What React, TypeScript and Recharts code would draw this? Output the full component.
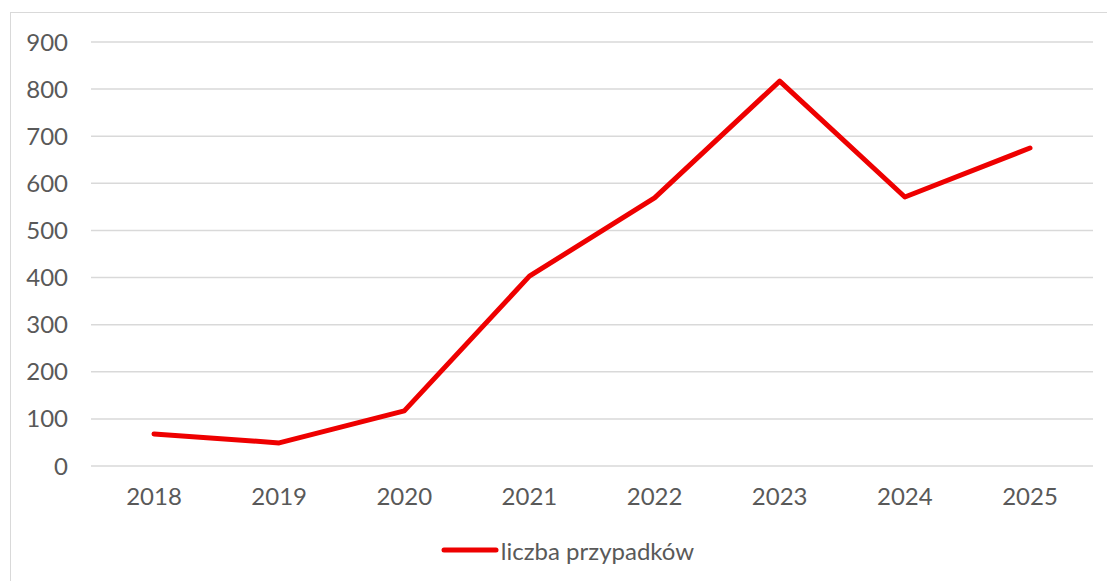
import React from "react";
import {
  LineChart,
  Line,
  XAxis,
  YAxis,
  CartesianGrid,
  Legend,
} from "recharts";

const YEARS = ["2018", "2019", "2020", "2021", "2022", "2023", "2024", "2025"];
const CASES = [68, 49, 117, 403, 569, 817, 571, 675];
const Y_TICKS = [0, 100, 200, 300, 400, 500, 600, 700, 800, 900];
const SERIES_NAME = "liczba przypadków";

const RED = "#ee0000";
const TEXT = "#595959";
const GRID = "#d9d9d9";
const FONT = "Lato, 'Open Sans', sans-serif";
const FONT_SIZE = 24;

const data = YEARS.map((year, i) => ({ year, cases: CASES[i] }));

function LegendContent() {
  return (
    <div
      style={{
        height: 30,
        display: "flex",
        alignItems: "center",
        justifyContent: "center",
        paddingLeft: 42,
        fontFamily: FONT,
        fontSize: FONT_SIZE,
        color: TEXT,
      }}
    >
      <svg width={58} height={10} style={{ marginRight: 2 }}>
        <line x1={3} y1={5} x2={55} y2={5} stroke={RED} strokeWidth={5} strokeLinecap="round" />
      </svg>
      <span>{SERIES_NAME}</span>
    </div>
  );
}

export default function App() {
  return (
    <div style={{ position: "absolute", left: 0, top: 0, width: 1107, height: 581, background: "#fff", overflow: "hidden" }}>
      <div
        style={{
          position: "absolute",
          left: 10,
          top: 12,
          width: 1200,
          height: 700,
          borderLeft: `1px solid ${GRID}`,
          borderTop: `1px solid ${GRID}`,
        }}
      />
      <LineChart
        width={1107}
        height={581}
        data={data}
        margin={{ top: 42, right: 14, left: 0, bottom: 45 }}
        style={{ position: "absolute", left: 0, top: 0 }}
      >
        <CartesianGrid vertical={false} stroke={GRID} strokeWidth={1.5} />
        <XAxis
          dataKey="year"
          axisLine={false}
          tickLine={false}
          tickSize={0}
          tickMargin={22}
          height={40}
          padding={{ left: 63, right: 63 }}
          tick={{ fill: TEXT, fontSize: FONT_SIZE, fontFamily: FONT }}
        />
        <YAxis
          domain={[0, 900]}
          ticks={Y_TICKS}
          axisLine={false}
          tickLine={false}
          tickSize={0}
          tickMargin={23}
          width={91}
          tick={{ fill: TEXT, fontSize: FONT_SIZE, fontFamily: FONT }}
        />
        <Legend verticalAlign="bottom" content={<LegendContent />} wrapperStyle={{ bottom: 16 }} />
        <Line
          type="linear"
          dataKey="cases"
          name={SERIES_NAME}
          stroke={RED}
          strokeWidth={5}
          strokeLinecap="round"
          strokeLinejoin="round"
          dot={false}
          activeDot={false}
          isAnimationActive={false}
        />
      </LineChart>
    </div>
  );
}
